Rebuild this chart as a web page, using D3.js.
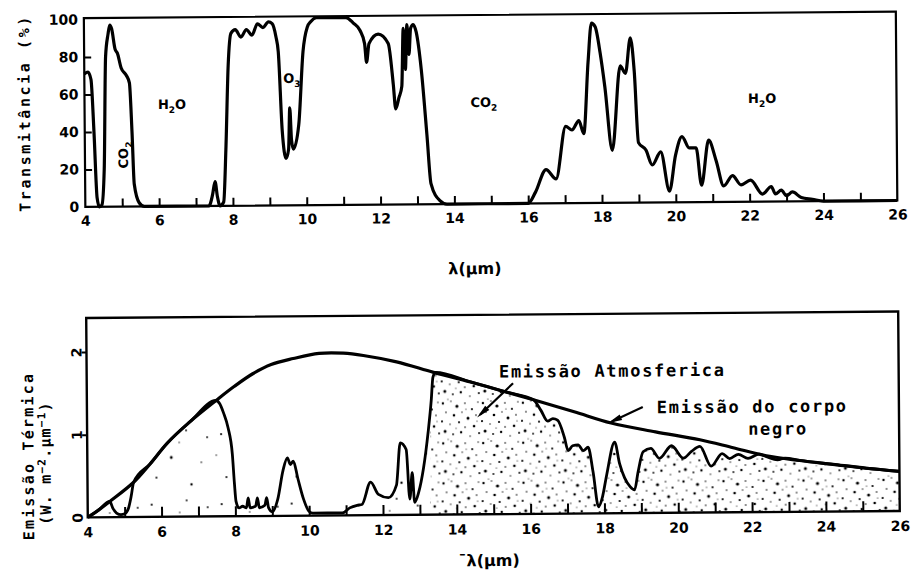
<!DOCTYPE html>
<html>
<head>
<meta charset="utf-8">
<script src="https://cdn.jsdelivr.net/npm/d3@7"></script>
<style>
  body { margin: 0; background: #fff; }
  svg { display: block; }
</style>
</head>
<body>
<svg id="chart" width="912" height="573"></svg>
<script>
// ---- Atmospheric transmittance spectrum (upper panel) ----
const transWl = [4.0, 4.1, 4.18, 4.25, 4.32, 4.38, 4.45, 4.52, 4.58, 4.65, 4.7, 4.75, 4.84, 4.9, 5.0, 5.14, 5.22, 5.28, 5.33, 5.46, 5.6,
  7.35, 7.45, 7.52, 7.58, 7.65, 7.75, 7.82, 7.9, 7.98, 8.1, 8.25, 8.4, 8.55, 8.7, 8.85, 9.0, 9.1, 9.2, 9.26, 9.35, 9.45, 9.52, 9.56, 9.6, 9.65,
  9.8, 9.93, 10.05, 10.15, 10.3, 11.1, 11.3, 11.48, 11.6, 11.65, 11.72, 11.97, 12.24, 12.37, 12.43, 12.52, 12.6, 12.65, 12.7, 12.75, 12.8,
  12.85, 12.92, 13.0, 13.13, 13.27, 13.37, 13.6, 13.8, 16.0, 16.2, 16.49, 16.76, 17.03, 17.2, 17.39, 17.52, 17.65, 17.75, 17.85, 17.98,
  18.1, 18.29, 18.52, 18.66, 18.8, 18.9, 19.0, 19.2, 19.37, 19.6, 19.83, 20.0, 20.18, 20.37, 20.56, 20.7, 20.9, 21.1, 21.3, 21.54, 21.77,
  22.03, 22.35, 22.59, 22.7, 22.86, 23.0, 23.16, 23.4, 23.7, 24.0, 26.0];
const transPct = [71, 72, 68, 40, 5, 0, 1, 20, 80, 92, 97, 95, 84, 82, 74, 70, 66, 40, 12, 2, 0,
  0, 6, 13, 5, 0, 2, 30, 75, 92, 94, 90, 94, 91, 97, 95, 98, 97, 90, 82, 40, 25, 30, 52, 35, 30,
  43, 82, 95, 98, 100, 100, 97, 93, 86, 76, 86, 91, 86, 64, 51, 57, 63, 94, 72, 96, 80,
  94, 96, 92, 72, 37, 11, 2, 0, 0, 6, 18, 13, 41, 39, 44, 37, 75, 96, 94, 80,
  62, 28, 73, 69, 88, 70, 32, 28, 20, 27, 6, 25, 35, 29, 29, 9, 33, 22, 8.5, 14, 9,
  11.5, 4, 8, 4, 6, 3, 5, 2, 1, 0, 0];

// ---- Thermal emission (lower panel) ----
const bbWl  = [4.0, 4.3, 4.6, 5.25, 5.7, 6.17, 6.8, 7.5, 8.0, 8.5, 9.0, 9.6, 10.3, 10.96, 11.5, 12.4, 13.4, 14.4, 15.4, 16.1,
  17.2, 18.2, 19.4, 20.6, 21.5, 22.4, 23.3, 24.2, 25.1, 26.0];
const bbVal = [0.0, 0.09, 0.19, 0.42, 0.64, 0.89, 1.15, 1.40, 1.57, 1.72, 1.83, 1.90, 1.96, 1.96, 1.93, 1.85, 1.72, 1.60, 1.47, 1.38,
  1.23, 1.09, 0.98, 0.88, 0.78, 0.68, 0.62, 0.57, 0.52, 0.48];

const atmWl  = [4.0, 4.3, 4.6, 4.68, 4.78, 4.9, 5.0, 5.1, 5.18, 5.25, 5.7, 6.17, 6.8, 7.5, 7.6, 7.7, 7.82, 7.93, 7.98, 8.02, 8.1, 8.2,
  8.3, 8.35, 8.4, 8.55, 8.6, 8.65, 8.8, 8.85, 8.9, 9.0, 9.15, 9.3, 9.42, 9.5, 9.58, 9.7, 9.85, 10.0, 10.1, 10.9, 11.1, 11.3, 11.43,
  11.67, 11.88, 12.15, 12.37, 12.48, 12.64, 12.73, 12.8, 12.86, 12.97, 13.24, 13.33, 13.38, 13.45, 14.4, 15.4, 16.1, 16.3, 16.48,
  16.62, 16.75, 16.93, 17.03, 17.15, 17.3, 17.44, 17.57, 17.7, 17.84, 17.95, 18.07, 18.29, 18.42, 18.55, 18.7, 18.82, 18.92, 19.06,
  19.27, 19.5, 19.83, 20.15, 20.37, 20.6, 20.9, 21.2, 21.4, 21.64, 21.9, 22.2, 22.4, 22.7, 22.9, 23.3, 24.2, 25.1, 26.0];
const atmVal = [0.0, 0.09, 0.19, 0.11, 0.05, 0.03, 0.04, 0.1, 0.25, 0.42, 0.64, 0.89, 1.15, 1.40, 1.36, 1.25, 1.07, 0.75, 0.4, 0.18, 0.1, 0.12,
  0.1, 0.22, 0.1, 0.12, 0.22, 0.1, 0.13, 0.22, 0.1, 0.05, 0.2, 0.55, 0.70, 0.62, 0.66, 0.45, 0.2, 0.05, 0.03, 0.03, 0.09, 0.12, 0.13,
  0.40, 0.25, 0.21, 0.36, 0.87, 0.79, 0.19, 0.51, 0.15, 0.27, 1.0, 1.38, 1.66, 1.72, 1.60, 1.47, 1.38, 1.25, 1.12,
  1.15, 1.13, 0.92, 0.76, 0.82, 0.83, 0.76, 0.80, 0.5, 0.08, 0.2, 0.47, 0.86, 0.6, 0.43, 0.32, 0.28, 0.5, 0.74,
  0.78, 0.66, 0.81, 0.66, 0.74, 0.80, 0.56, 0.71, 0.65, 0.70, 0.65, 0.70, 0.67, 0.63, 0.65, 0.62, 0.57, 0.52, 0.48];

// ---- Axis ticks ----
const wlLabelTicks = [4, 6, 8, 10, 12, 14, 16, 18, 20, 22, 24, 26];
const wlMinorTicks = [5, 6, 7, 8, 9, 10, 11, 12, 13, 14, 15, 16, 17, 18, 19, 20, 21, 22, 23, 24, 25];
const transLabelTicks = [0, 20, 40, 60, 80, 100];
const transInnerTicks = [20, 40, 60, 80];
const emisLabelTicks = [0, 1, 2];
const emisOuterTicks = [1, 2];

// Absorbing gases marked on the transmittance spectrum: [name, subscript, tail, wavelength, %T, rotated]
const gasLabels = [
  ["CO", "2", "", 5.03, 27.5, true],
  ["H", "2", "O", 6.37, 54.6, false],
  ["O", "3", "", 9.62, 68, false],
  ["CO", "2", "", 14.82, 54.4, false],
  ["H", "2", "O", 22.36, 55.3, false]
];

const tickFont = "'DejaVu Sans', sans-serif";
const typeFont = "'DejaVu Sans Mono', monospace";

const svg = d3.select("#chart");
const root = svg.append("g").attr("transform", "rotate(-0.45 492 290)");

const x = d3.scaleLinear().domain([4, 26]).range([86, 898]);
const yT = d3.scaleLinear().domain([0, 100]).range([203.7, 16.4]);
const yE = d3.scaleLinear().domain([0, 2]).range([514.2, 348.7]);

const topPanel = { top: yT(100.8), bottom: yT(0) };
const botPanel = { top: yE(2.41), bottom: yE(0) };

// ---- stipple textures for the atmospheric emission area ----
const defs = svg.append("defs");
const denseDots = [[2,3,1.2],[10,1,0.7],[16,6,1.6],[24,3,0.8],[31,9,1.1],[37,2,0.7],[5,12,0.8],[13,15,1.3],[21,12,0.7],[27,18,1.5],
  [35,15,0.8],[1,21,1.1],[9,24,0.7],[18,22,1.1],[24,27,0.8],[33,26,1.3],[4,31,1.5],[12,34,0.9],[20,32,1.2],[15,28,0.6],[29,36,0.7],
  [38,33,1.0],[7,39,0.6],[25,9,0.6],[36,21,0.6]];
const sparseDots = [[10,12,1.1],[45,8,0.9],[30,35,1.4],[60,40,0.8],[15,55,1.0],[50,62,1.2],[5,33,0.7],[38,20,0.7],[66,15,0.9]];

function pattern(id, size, dots) {
  const p = defs.append("pattern").attr("id", id).attr("patternUnits", "userSpaceOnUse")
    .attr("width", size).attr("height", size);
  p.selectAll("circle").data(dots).join("circle")
    .attr("cx", d => d[0]).attr("cy", d => d[1]).attr("r", d => d[2]).attr("fill", "#000");
}
pattern("stippleDense", 40, denseDots);
pattern("stippleSparse", 70, sparseDots);

defs.append("clipPath").attr("id", "clipSparse").append("rect")
  .attr("x", x(4)).attr("y", botPanel.top).attr("width", x(13.3) - x(4)).attr("height", botPanel.bottom - botPanel.top);
defs.append("clipPath").attr("id", "clipDense").append("rect")
  .attr("x", x(13.3)).attr("y", botPanel.top).attr("width", x(26) - x(13.3)).attr("height", botPanel.bottom - botPanel.top);

const boldTicks = g => g.selectAll("text").attr("font-family", tickFont).attr("font-weight", "bold")
  .attr("font-size", 14).attr("fill", "#000");

// ================= upper panel: transmittance =================
const transData = transWl.map((w, i) => [w, transPct[i]]);
const transLine = d3.line().x(d => x(d[0])).y(d => yT(d[1])).curve(d3.curveMonotoneX);

root.append("path").datum(transData).attr("d", transLine)
  .attr("fill", "none").attr("stroke", "#000").attr("stroke-width", 3.2).attr("stroke-linejoin", "round");

root.append("rect").attr("x", x(4)).attr("y", topPanel.top)
  .attr("width", x(26) - x(4)).attr("height", topPanel.bottom - topPanel.top)
  .attr("fill", "none").attr("stroke", "#000").attr("stroke-width", 2.2);

// inner wavelength ticks
root.append("g").attr("transform", `translate(0,${yT(0)})`)
  .call(d3.axisTop(x).tickValues(wlMinorTicks).tickSize(8).tickFormat(""))
  .call(g => g.select(".domain").remove())
  .call(g => g.selectAll("line").attr("stroke-width", 2));
root.append("g").attr("transform", `translate(0,${yT(0)})`)
  .call(d3.axisBottom(x).tickValues(wlLabelTicks).tickSize(0).tickPadding(9).tickFormat(d3.format("d")))
  .call(g => g.select(".domain").remove())
  .call(boldTicks);

// transmittance ticks and labels
root.append("g").attr("transform", `translate(${x(4)},0)`)
  .call(d3.axisRight(yT).tickValues(transInnerTicks).tickSize(7).tickFormat(""))
  .call(g => g.select(".domain").remove())
  .call(g => g.selectAll("line").attr("stroke-width", 2));
root.append("g").attr("transform", `translate(${x(4)},0)`)
  .call(d3.axisLeft(yT).tickValues(transLabelTicks).tickSize(0).tickPadding(6).tickFormat(d3.format("d")))
  .call(g => g.select(".domain").remove())
  .call(boldTicks);

root.append("text")
  .attr("transform", `translate(26,${(topPanel.top + topPanel.bottom) / 2}) rotate(-90)`)
  .attr("text-anchor", "middle").attr("dy", "0.35em")
  .attr("font-family", typeFont).attr("font-weight", "bold").attr("font-size", 15)
  .style("letter-spacing", "2.6px")
  .text("Transmitância (%)");

root.append("text")
  .attr("x", (x(4) + x(26)) / 2 - 17).attr("y", 274)
  .attr("text-anchor", "middle")
  .attr("font-family", tickFont).attr("font-weight", "bold").attr("font-size", 16)
  .text("λ(µm)");

// gas labels
gasLabels.forEach(([a, sub, b, w, t, rot]) => {
  const t0 = root.append("text")
    .attr("font-family", tickFont).attr("font-weight", "bold").attr("font-size", 13)
    .attr("text-anchor", "middle");
  if (rot) t0.attr("transform", `translate(${x(w) + 5},${yT(t)}) rotate(-90)`);
  else t0.attr("transform", `translate(${x(w)},${yT(t) + 5})`);
  t0.append("tspan").text(a);
  t0.append("tspan").attr("font-size", 9).attr("dy", 4).text(sub);
  if (b) t0.append("tspan").attr("dy", -4).text(b);
});

// ================= lower panel: thermal emission =================
const bbData = bbWl.map((w, i) => [w, bbVal[i]]);
const atmData = atmWl.map((w, i) => [w, atmVal[i]]);
const lineAtm = d3.line().x(d => x(d[0])).y(d => yE(d[1])).curve(d3.curveMonotoneX);
const lineBB = d3.line().x(d => x(d[0])).y(d => yE(d[1])).curve(d3.curveCatmullRom.alpha(0.5));
const areaE = d3.area().x(d => x(d[0])).y0(yE(0)).y1(d => yE(d[1])).curve(d3.curveMonotoneX);

root.append("path").datum(atmData).attr("d", areaE)
  .attr("fill", "url(#stippleSparse)").attr("clip-path", "url(#clipSparse)");
root.append("path").datum(atmData).attr("d", areaE)
  .attr("fill", "url(#stippleDense)").attr("clip-path", "url(#clipDense)");

root.append("path").datum(atmData).attr("d", lineAtm)
  .attr("fill", "none").attr("stroke", "#000").attr("stroke-width", 2.8).attr("stroke-linejoin", "round");
root.append("path").datum(bbData).attr("d", lineBB)
  .attr("fill", "none").attr("stroke", "#000").attr("stroke-width", 3.2);

root.append("rect").attr("x", x(4)).attr("y", botPanel.top)
  .attr("width", x(26) - x(4)).attr("height", botPanel.bottom - botPanel.top)
  .attr("fill", "none").attr("stroke", "#000").attr("stroke-width", 2.4);

root.append("g").attr("transform", `translate(0,${yE(0)})`)
  .call(d3.axisTop(x).tickValues(wlMinorTicks).tickSize(10).tickFormat(""))
  .call(g => g.select(".domain").remove())
  .call(g => g.selectAll("line").attr("stroke-width", 2));
root.append("g").attr("transform", `translate(0,${yE(0)})`)
  .call(d3.axisBottom(x).tickValues(wlLabelTicks).tickSize(0).tickPadding(10).tickFormat(d3.format("d")))
  .call(g => g.select(".domain").remove())
  .call(boldTicks);

root.append("g").attr("transform", `translate(${x(4)},0)`)
  .call(d3.axisLeft(yE).tickValues(emisOuterTicks).tickSize(5).tickFormat(""))
  .call(g => g.select(".domain").remove())
  .call(g => g.selectAll("line").attr("stroke-width", 2));
root.append("g").attr("transform", `translate(${x(4)},0)`)
  .call(d3.axisLeft(yE).tickValues(emisLabelTicks).tickSize(0).tickFormat(d3.format("d")))
  .call(g => g.select(".domain").remove())
  .call(boldTicks)
  .call(g => g.selectAll("text")
    .attr("x", null).attr("dy", "0.35em").attr("text-anchor", "middle")
    .attr("transform", "translate(-10,0) rotate(-90)"));

root.append("text")
  .attr("transform", `translate(27,${(botPanel.top + botPanel.bottom) / 2 + 38}) rotate(-90)`)
  .attr("text-anchor", "middle").attr("dy", "0.35em")
  .attr("font-family", typeFont).attr("font-weight", "bold").attr("font-size", 15)
  .style("letter-spacing", "2.2px")
  .text("Emissão Térmica");
const unit = root.append("text")
  .attr("transform", `translate(44,${(botPanel.top + botPanel.bottom) / 2 + 45}) rotate(-90)`)
  .attr("text-anchor", "middle").attr("dy", "0.35em")
  .attr("font-family", typeFont).attr("font-weight", "bold").attr("font-size", 15)
  .style("letter-spacing", "1.2px");
unit.append("tspan").text("(W. m");
unit.append("tspan").attr("font-size", 11).attr("dy", -5).text("−2");
unit.append("tspan").attr("dy", 5).text(".µm");
unit.append("tspan").attr("font-size", 11).attr("dy", -5).text("−1");
unit.append("tspan").attr("dy", 5).text(")");

root.append("text")
  .attr("x", (x(4) + x(26)) / 2 - 5).attr("y", 566)
  .attr("text-anchor", "middle")
  .attr("font-family", tickFont).attr("font-weight", "bold").attr("font-size", 16)
  .text("¯λ(µm)");

// annotations with arrows
function arrow(tail, tip) {
  const x0 = x(tail[0]), y0 = yE(tail[1]), x1 = x(tip[0]), y1 = yE(tip[1]);
  const len = Math.hypot(x1 - x0, y1 - y0), ux = (x1 - x0) / len, uy = (y1 - y0) / len;
  const L = 14, w = 3;
  root.append("line").attr("x1", x0).attr("y1", y0).attr("x2", x1 - ux * 4).attr("y2", y1 - uy * 4)
    .attr("stroke", "#000").attr("stroke-width", 2.2);
  root.append("path")
    .attr("d", `M${x1},${y1}L${x1 - ux * L - uy * w},${y1 - uy * L + ux * w}L${x1 - ux * L + uy * w},${y1 - uy * L - ux * w}Z`)
    .attr("fill", "#000");
}
arrow([15.55, 1.58], [14.57, 1.17]);
arrow([19.06, 1.28], [18.12, 1.09]);

const note = (txt, w, e) => root.append("text")
  .attr("x", x(w)).attr("y", yE(e))
  .attr("font-family", typeFont).attr("font-weight", "bold").attr("font-size", 17)
  .style("letter-spacing", "1.7px").text(txt);
note("Emissão Atmosferica", 15.17, 1.65);
note("Emissão do corpo", 19.44, 1.205);
note("negro", 21.91, 0.935);
</script>
</body>
</html>
